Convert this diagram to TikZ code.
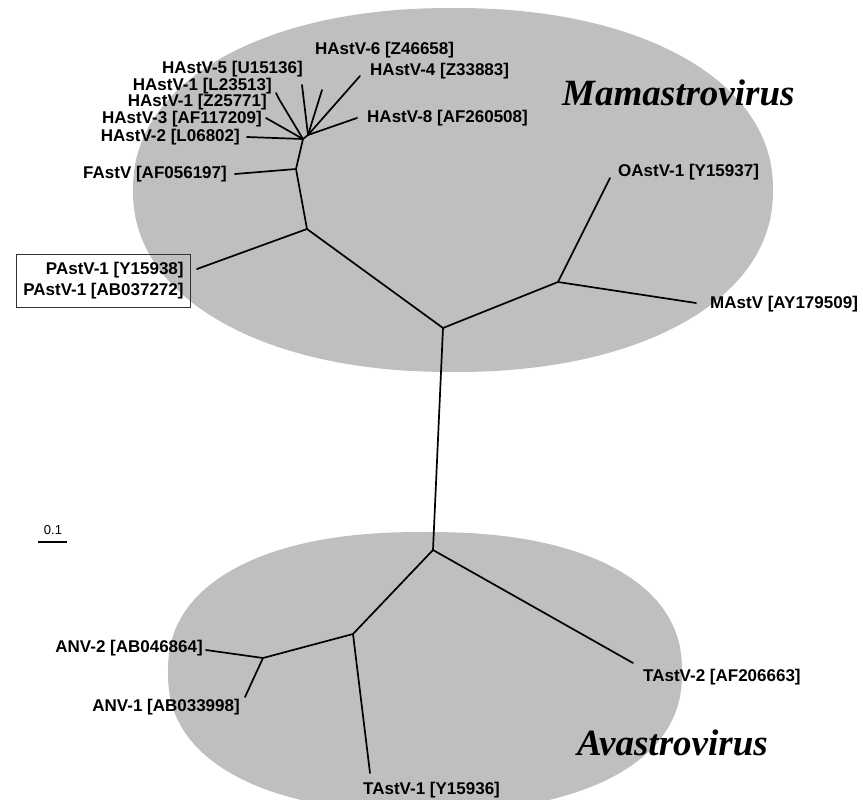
\documentclass[tikz,border=0pt]{standalone}
\usepackage{fontspec}
\setmainfont{Liberation Sans}
\newfontfamily\titlefont{Liberation Serif}
\definecolor{ellfill}{RGB}{191,191,191}
\begin{document}
\begin{tikzpicture}[x=1pt,y=-1pt,
  br/.style={line width=1.7pt, line cap=round, line join=round},
  lab/.style={inner sep=0pt, font=\fontsize{17}{21}\selectfont\bfseries},
  ttl/.style={inner sep=0pt, font=\titlefont\bfseries\itshape\fontsize{37}{40}\selectfont}]
\clip (0,0) rectangle (863,800);
\fill[white] (0,0) rectangle (863,800);
% clade shading
\fill[ellfill] plot[domain=0.25:360.25, samples=241]
  ({453+320*sign(cos(\x))*abs(cos(\x))^0.93},{190+182*sign(sin(\x))*abs(sin(\x))^0.93}) -- cycle;
\fill[ellfill] plot[domain=0.25:360.25, samples=241]
  ({425+257*sign(cos(\x))*abs(cos(\x))^0.87},{672+140*sign(sin(\x))*abs(sin(\x))^0.87}) -- cycle;
% internal nodes
\coordinate (b0) at (433,550);
\coordinate (t0) at (443,328);
\coordinate (m1) at (558,282);
\coordinate (t1) at (307,229);
\coordinate (t2) at (296,169);
\coordinate (t3) at (303,139);
\coordinate (t3b) at (308,135);
\coordinate (b1) at (353,634);
\coordinate (a1) at (263,658);
% leaf ends
\coordinate (eOA) at (610,178);
\coordinate (eMA) at (696,303);
\coordinate (ePA) at (197,269);
\coordinate (eFA) at (235,174);
\coordinate (eH2) at (247,137);
\coordinate (eH3) at (266,118);
\coordinate (eHZ) at (279,99);
\coordinate (eHL) at (276,93);
\coordinate (eH5) at (302,85);
\coordinate (eH6) at (322,90);
\coordinate (eH4) at (360,76);
\coordinate (eH8) at (357,118);
\coordinate (eA2) at (206,650);
\coordinate (eA1) at (245,697);
\coordinate (eT1) at (370,773);
\coordinate (eT2) at (633,663);
% branches
\draw[br] (b0) -- (t0);
\draw[br] (t0) -- (m1);
\draw[br] (m1) -- (eOA);
\draw[br] (m1) -- (eMA);
\draw[br] (t0) -- (t1);
\draw[br] (t1) -- (ePA);
\draw[br] (t1) -- (t2);
\draw[br] (t2) -- (eFA);
\draw[br] (t2) -- (t3);
\draw[br] (t3) -- (eH2);
\draw[br] (t3) -- (eH3);
\draw[br] (t3) -- (eHZ) -- (eHL);
\draw[br] (t3) -- (t3b);
\draw[br] (t3b) -- (eH5);
\draw[br] (t3b) -- (eH6);
\draw[br] (t3b) -- (eH4);
\draw[br] (t3b) -- (eH8);
\draw[br] (b0) -- (b1);
\draw[br] (b1) -- (a1);
\draw[br] (a1) -- (eA2);
\draw[br] (a1) -- (eA1);
\draw[br] (b1) -- (eT1);
\draw[br] (b0) -- (eT2);
% labels
\node[lab, anchor=west] (lH6) at (315,50) {HAstV-6 [Z46658]};
\node[lab, anchor=east] (lH5) at (303,69.5) {HAstV-5 [U15136]};
\node[lab, anchor=west] (lH4) at (370,71) {HAstV-4 [Z33883]};
\node[lab, anchor=east] (lHL) at (272,86) {HAstV-1 [L23513]};
\node[lab, anchor=east] (lHZ) at (267,102.5) {HAstV-1 [Z25771]};
\node[lab, anchor=east] (lH3) at (262,119) {HAstV-3 [AF117209]};
\node[lab, anchor=east] (lH2) at (240,137.5) {HAstV-2 [L06802]};
\node[lab, anchor=west] (lH8) at (367,118) {HAstV-8 [AF260508]};
\node[lab, anchor=east] (lFA) at (227,174) {FAstV [AF056197]};
\node[lab, anchor=west] (lOA) at (618,172) {OAstV-1 [Y15937]};
\node[lab, anchor=west] (lMA) at (710,304) {MAstV [AY179509]};
\node[lab, draw=black!80, line width=0.8pt, align=right, inner xsep=7pt, inner ysep=8pt, anchor=east] (lPA) at (191,281)
  {PAstV-1 [Y15938]\\PAstV-1 [AB037272]};
\node[lab, anchor=east] (lA2) at (203,648) {ANV-2 [AB046864]};
\node[lab, anchor=east] (lA1) at (240,707) {ANV-1 [AB033998]};
\node[lab, anchor=west] (lT2) at (643,677) {TAstV-2 [AF206663]};
\node[lab, anchor=west] (lT1) at (363,790) {TAstV-1 [Y15936]};
% clade names
\node[ttl, anchor=west] (tM) at (562,93) {Mamastrovirus};
\node[ttl, anchor=west] (tA) at (577,743) {Avastrovirus};
% scale bar
\node[inner sep=0pt, font=\fontsize{13}{15}\selectfont] (sc) at (53,530) {0.1};
\coordinate (s1) at (38,542);
\coordinate (s2) at (67,542);
\draw[line width=1.8pt] (s1) -- (s2);
\end{tikzpicture}
\end{document}
